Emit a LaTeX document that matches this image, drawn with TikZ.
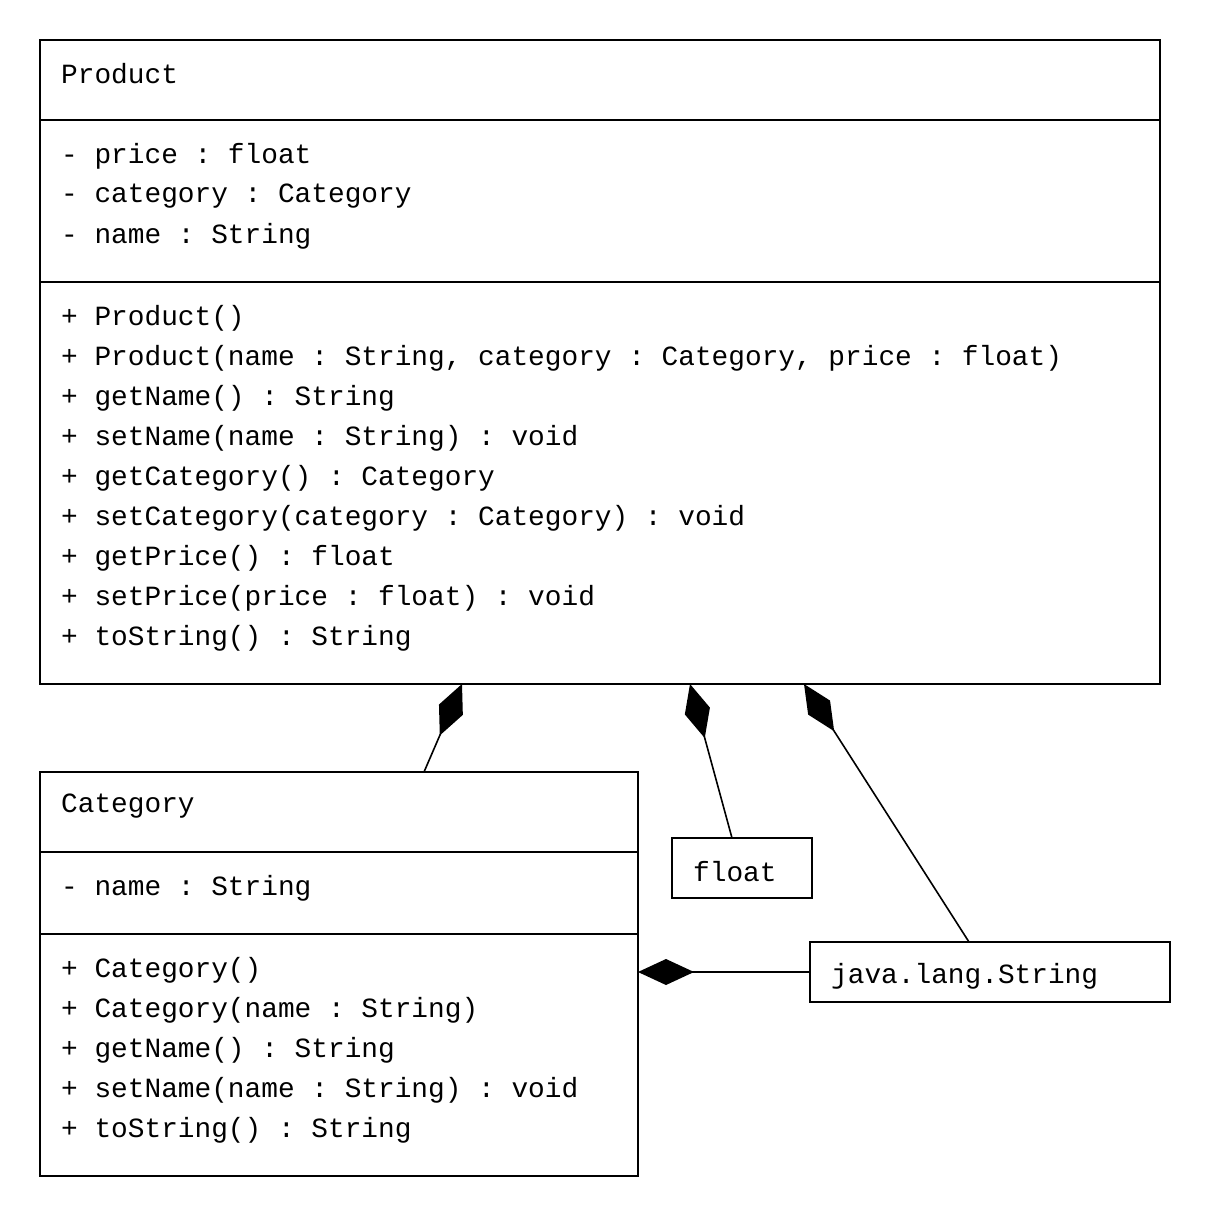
\documentclass[tikz,border=0pt]{standalone}
\usepackage{fontspec}
\setmonofont{Liberation Mono}
\usetikzlibrary{arrows.meta}
\begin{document}
\begin{tikzpicture}[x=1pt,y=-1pt,
  box/.style={draw,line width=1.6pt,anchor=north west,inner sep=0pt,outer sep=0pt},
  sep/.style={line width=1.6pt},
  txt/.style={anchor=west,inner sep=0pt,yshift=-2pt,font=\ttfamily\fontsize{27.8}{40}\selectfont},
  comp/.style={line width=1.6pt,-{Diamond[length=56pt,width=26pt]}}]
\useasboundingbox (0,0) rectangle (1210,1216);

% Product class
\node[box,minimum width=1120pt,minimum height=644pt] (product) at (40,40) {};
\draw[sep] (40,120) -- (1160,120);
\draw[sep] (40,282) -- (1160,282);
\node[txt] (pname) at (61,72) {Product};
\node[txt] (pa1) at (61,154) {- price : float};
\node[txt] (pa2) at (61,194) {- category : Category};
\node[txt] (pa3) at (61,234) {- name : String};
\node[txt] (pm1) at (61,316) {+ Product()};
\node[txt] (pm2) at (61,356) {+ Product(name : String, category : Category, price : float)};
\node[txt] (pm3) at (61,396) {+ getName() : String};
\node[txt] (pm4) at (61,436) {+ setName(name : String) : void};
\node[txt] (pm5) at (61,476) {+ getCategory() : Category};
\node[txt] (pm6) at (61,516) {+ setCategory(category : Category) : void};
\node[txt] (pm7) at (61,556) {+ getPrice() : float};
\node[txt] (pm8) at (61,596) {+ setPrice(price : float) : void};
\node[txt] (pm9) at (61,636) {+ toString() : String};

% Category class
\node[box,minimum width=598pt,minimum height=404pt] (category) at (40,772) {};
\draw[sep] (40,852) -- (638,852);
\draw[sep] (40,934) -- (638,934);
\node[txt] (cname) at (61,804) {Category};
\node[txt] (ca1) at (61,886) {- name : String};
\node[txt] (cm1) at (61,968) {+ Category()};
\node[txt] (cm2) at (61,1008) {+ Category(name : String)};
\node[txt] (cm3) at (61,1048) {+ getName() : String};
\node[txt] (cm4) at (61,1088) {+ setName(name : String) : void};
\node[txt] (cm5) at (61,1128) {+ toString() : String};

% Primitive and library types
\node[box,minimum width=140pt,minimum height=60pt] (float) at (672,838) {};
\node[txt] (ftxt) at (693,870) {float};
\node[box,minimum width=360pt,minimum height=60pt] (str) at (810,942) {};
\node[txt] (stxt) at (831,974) {java.lang.String};

% Compositions
\draw[comp] ([xshift=384pt]category.north west) -- ([xshift=422pt]product.south west);
\draw[comp] ([xshift=60pt]float.north west) -- ([xshift=650pt]product.south west);
\draw[comp] ([xshift=159pt]str.north west) -- ([xshift=764pt]product.south west);
\draw[comp] (str.west) -- (str.west -| category.east);
\end{tikzpicture}
\end{document}
